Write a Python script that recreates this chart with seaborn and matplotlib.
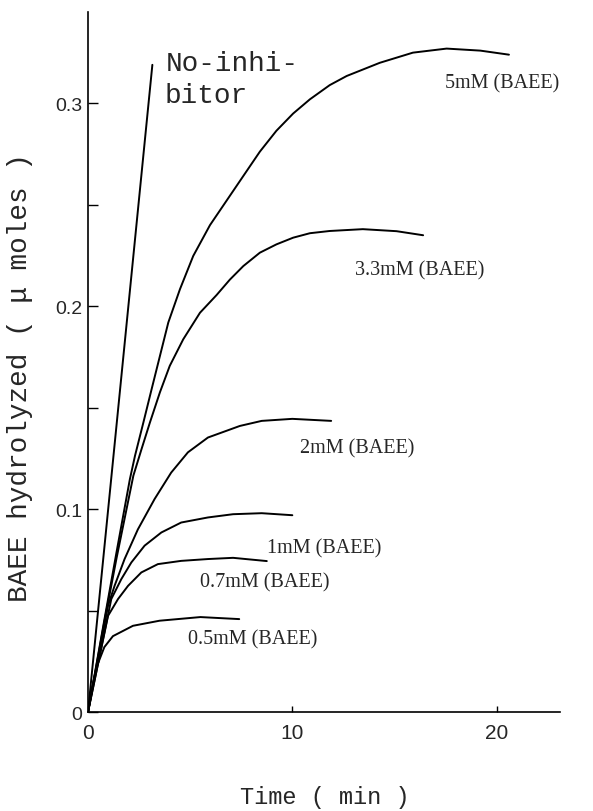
import matplotlib
matplotlib.use("Agg")
import matplotlib.pyplot as plt
import seaborn as sns
import pandas as pd
from matplotlib.ticker import FixedLocator, FixedFormatter, NullFormatter

# ---- data ----
series_names = ["No-inhibitor", "5mM", "3.3mM", "2mM", "1mM", "0.7mM", "0.5mM"]

x_noinh = [0.0, 3.15]
y_noinh = [0.0, 0.319]

x_5 = [0.0, 0.81, 1.4, 2.05, 2.3, 2.71, 3.11, 3.52, 3.93, 4.5, 5.15, 5.97, 6.94, 7.6, 8.41,
       9.22, 10.04, 10.86, 11.83, 12.66, 14.28, 15.9, 17.55, 19.2, 20.6]
y_5 = [0.0, 0.046, 0.079, 0.1148, 0.1263, 0.1427, 0.159, 0.1755, 0.192, 0.2084, 0.2248, 0.2400,
       0.2544, 0.2642, 0.2762, 0.2865, 0.2950, 0.302, 0.309, 0.3135, 0.320, 0.325, 0.327, 0.326, 0.324]

x_33 = [0.0, 0.81, 1.4, 2.22, 2.62, 3.03, 3.52, 4.0, 4.66, 5.48, 6.29, 6.94, 7.6, 8.41, 9.22, 10.04,
        10.86, 11.83, 13.45, 15.1, 16.4]
y_33 = [0.0, 0.045, 0.076, 0.1165, 0.1296, 0.1427, 0.1576, 0.1706, 0.1837, 0.1968, 0.2055, 0.2131,
        0.2198, 0.2264, 0.2305, 0.2338, 0.236, 0.2371, 0.238, 0.237, 0.235]

x_2 = [0.0, 0.98, 1.30, 1.79, 2.44, 3.26, 4.07, 4.89, 5.87, 7.43, 8.5, 10.0, 11.9]
y_2 = [0.0, 0.0524, 0.0622, 0.0754, 0.090, 0.105, 0.118, 0.128, 0.1353, 0.141, 0.1435, 0.1445, 0.1435]

x_1 = [0.0, 1.14, 1.63, 2.12, 2.77, 3.59, 4.56, 5.87, 7.1, 8.5, 10.0]
y_1 = [0.0, 0.0557, 0.0655, 0.0737, 0.082, 0.0885, 0.0934, 0.0959, 0.0975, 0.098, 0.097]

x_07 = [0.0, 0.98, 1.47, 1.96, 2.61, 3.42, 4.56, 5.87, 7.1, 8.75]
y_07 = [0.0, 0.0474, 0.0557, 0.0622, 0.0688, 0.0729, 0.0745, 0.0754, 0.076, 0.0744]

x_05 = [0.0, 0.2, 0.44, 0.8, 1.22, 2.2, 3.5, 5.5, 7.4]
y_05 = [0.0, 0.012, 0.0227, 0.032, 0.0374, 0.0425, 0.045, 0.0468, 0.0458]

xs = [x_noinh, x_5, x_33, x_2, x_1, x_07, x_05]
ys = [y_noinh, y_5, y_33, y_2, y_1, y_07, y_05]

label_texts = ["5mM (BAEE)", "3.3mM (BAEE)", "2mM (BAEE)", "1mM (BAEE)", "0.7mM (BAEE)", "0.5mM (BAEE)"]
label_x = [17.46, 13.06, 10.37, 8.75, 5.48, 4.9]
label_y = [0.310, 0.218, 0.130, 0.081, 0.064, 0.036]

ytick_vals = [0.0, 0.1, 0.2, 0.3]
ytick_labels = ["0", "0.1", "0.2", "0.3"]
yminor_vals = [0.05, 0.15, 0.25]
xtick_vals = [0, 10, 20]
xtick_labels = ["0", "10", "20"]

rows = []
for name, xv, yv in zip(series_names, xs, ys):
    for a, b in zip(xv, yv):
        rows.append({"series": name, "time": a, "value": b})
df = pd.DataFrame(rows)

# ---- plot ----
sns.set_style("ticks")
plt.rcParams["font.family"] = ["Liberation Mono", "DejaVu Sans Mono"]

fig = plt.figure(figsize=(5.93, 8.12), dpi=100)
ax = fig.add_axes([0.1484, 0.1219, 0.796, 0.862])

sns.lineplot(data=df, x="time", y="value", hue="series", units="series",
             estimator=None, palette={n: "black" for n in series_names},
             linewidth=1.4, legend=False, ax=ax, sort=True)

ax.set_xlim(0, 23.1)
ax.set_ylim(0, 0.345)
sns.despine(ax=ax)
for sp in ["left", "bottom"]:
    ax.spines[sp].set_linewidth(1.2)
    ax.spines[sp].set_color("black")

ax.yaxis.set_major_locator(FixedLocator(ytick_vals))
ax.yaxis.set_major_formatter(FixedFormatter(ytick_labels))
ax.yaxis.set_minor_locator(FixedLocator(yminor_vals))
ax.yaxis.set_minor_formatter(NullFormatter())
ax.xaxis.set_major_locator(FixedLocator(xtick_vals))
ax.xaxis.set_major_formatter(FixedFormatter(xtick_labels))

ax.tick_params(axis="y", which="both", direction="in", length=7, width=1.0, pad=4,
               labelsize=14, color="black")
ax.tick_params(axis="x", which="major", direction="in", length=4, width=1.0, pad=8,
               labelsize=15, color="black")
for lab in ax.get_xticklabels() + ax.get_yticklabels():
    lab.set_family("Liberation Sans")

ax.set_xlabel("Time ( min )", fontsize=17, family="Liberation Mono", va="center")
ax.xaxis.set_label_coords(0.502, -0.12)
ax.set_ylabel("BAEE hydrolyzed ( \u03bc moles )", fontsize=20, va="center",
              family=["Liberation Mono", "DejaVu Sans Mono"])
ax.yaxis.set_label_coords(-0.144, 0.479)

ax.text(3.8, 0.320, "No-inhi-", fontsize=20, family="Liberation Mono", va="center", ha="left")
ax.text(3.77, 0.304, "bitor", fontsize=20, family="Liberation Mono", va="center", ha="left")

for t, lx, ly in zip(label_texts, label_x, label_y):
    ax.text(lx, ly, t, fontsize=14.5, family="Liberation Serif", va="center", ha="left")

fig.savefig("out.png", dpi=100, facecolor="white")
